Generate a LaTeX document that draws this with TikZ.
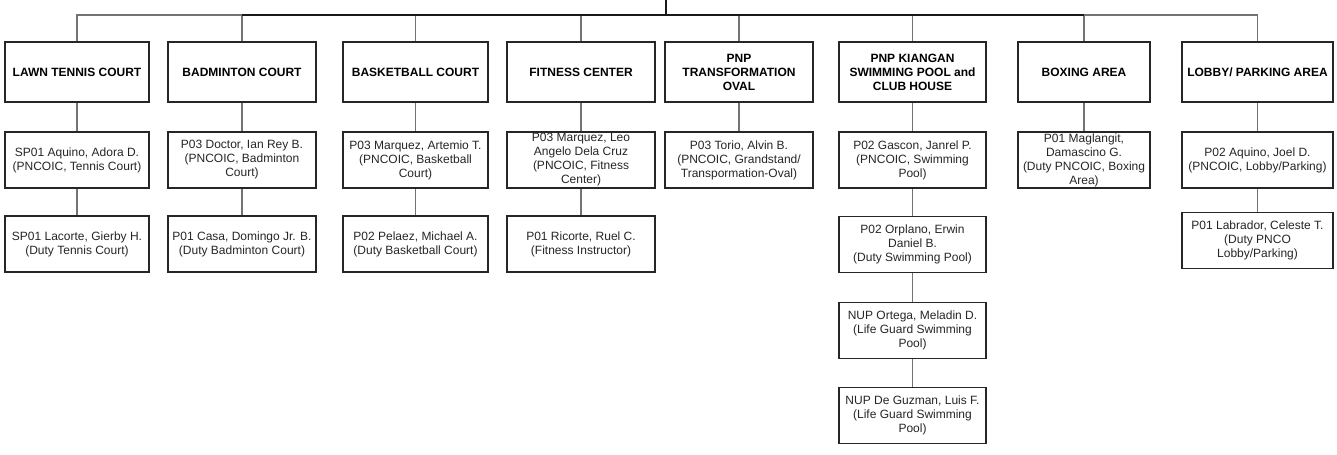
\documentclass[tikz,border=0pt]{standalone}
\usepackage{fontspec}
\setmainfont{Liberation Sans}
\usetikzlibrary{positioning}

\tikzset{
  hbox/.style={draw=black!85, line width=1.4pt, fill=white, align=center,
    minimum height=45pt, inner sep=1pt,
    font=\fontsize{9}{10.5}\selectfont\bfseries},
  pbox/.style={draw=black!85, line width=1.4pt, fill=white, align=center,
    minimum height=42pt, inner sep=1pt, text=black!85,
    font=\fontsize{9}{10.5}\selectfont},
  link/.style={draw=black!55, line width=1.4pt},
  rootlink/.style={draw=black!90, line width=1.5pt}
}

\begin{document}
\begin{tikzpicture}[x=0.75pt, y=-0.75pt]

  \useasboundingbox (0,0) rectangle (1337,454);

  % Root stub and bus
  \coordinate (root) at (666,0);
  \coordinate (bus) at (666,15);

  % Area headers
  \node[hbox, minimum width=108pt]    (lawn)  at (77,72)     {LAWN TENNIS COURT};
  \node[hbox, minimum width=111pt]    (badm)  at (242,72)    {BADMINTON COURT};
  \node[hbox, minimum width=108.75pt] (bask)  at (415.5,72)  {BASKETBALL COURT};
  \node[hbox, minimum width=111pt]    (fit)   at (581,72)    {FITNESS CENTER};
  \node[hbox, minimum width=111pt]    (oval)  at (739,72)    {PNP\\TRANSFORMATION\\OVAL};
  \node[hbox, minimum width=110.25pt] (pool)  at (912.5,72)  {PNP KIANGAN\\SWIMMING POOL and\\CLUB HOUSE};
  \node[hbox, minimum width=99pt]     (boxa)  at (1084,72)   {BOXING AREA};
  \node[hbox, minimum width=113.25pt] (lobby) at (1257.5,72) {LOBBY/ PARKING AREA};

  % Lawn tennis
  \node[pbox, minimum width=108pt] (lawnA) at (77,160) {SP01 Aquino, Adora D.\\(PNCOIC, Tennis Court)};
  \node[pbox, minimum width=108pt] (lawnB) at (77,244) {SP01 Lacorte, Gierby H.\\(Duty Tennis Court)};

  % Badminton
  \node[pbox, minimum width=111pt] (badmA) at (242,160) {P03 Doctor, Ian Rey B.\\(PNCOIC, Badminton\\Court)};
  \node[pbox, minimum width=111pt] (badmB) at (242,244) {P01 Casa, Domingo Jr. B.\\(Duty Badminton Court)};

  % Basketball
  \node[pbox, minimum width=108.75pt] (baskA) at (415.5,160) {P03 Marquez, Artemio T.\\(PNCOIC, Basketball\\Court)};
  \node[pbox, minimum width=108.75pt] (baskB) at (415.5,244) {P02 Pelaez, Michael A.\\(Duty Basketball Court)};

  % Fitness
  \node[pbox, minimum width=111pt] (fitA) at (581,160) {P03 Marquez, Leo\\Angelo Dela Cruz\\(PNCOIC, Fitness\\Center)};
  \node[pbox, minimum width=111pt] (fitB) at (581,244) {P01 Ricorte, Ruel C.\\(Fitness Instructor)};

  % Oval
  \node[pbox, minimum width=111pt] (ovalA) at (739,160) {P03 Torio, Alvin B.\\(PNCOIC, Grandstand/\\Transpormation-Oval)};

  % Swimming pool
  \node[pbox, minimum width=110.25pt] (poolA) at (912.5,160)   {P02 Gascon, Janrel P.\\(PNCOIC, Swimming\\Pool)};
  \node[pbox, minimum width=110.25pt] (poolB) at (912.5,244.5) {P02 Orplano, Erwin\\Daniel B.\\(Duty Swimming Pool)};
  \node[pbox, minimum width=110.25pt] (poolC) at (912.5,330.5) {NUP Ortega, Meladin D.\\(Life Guard Swimming\\Pool)};
  \node[pbox, minimum width=110.25pt] (poolD) at (912.5,415.5) {NUP De Guzman, Luis F.\\(Life Guard Swimming\\Pool)};

  % Boxing
  \node[pbox, minimum width=99pt] (boxaA) at (1084,160) {P01 Maglangit,\\Damascino G.\\(Duty PNCOIC, Boxing\\Area)};

  % Lobby
  \node[pbox, minimum width=113.25pt] (lobbyA) at (1257.5,160)   {P02 Aquino, Joel D.\\(PNCOIC, Lobby/Parking)};
  \node[pbox, minimum width=113.25pt] (lobbyB) at (1257.5,240.5) {P01 Labrador, Celeste T.\\(Duty PNCO\\Lobby/Parking)};

  % Bus to headers
  \foreach \h in {lawn,badm,bask,fit,oval,pool,boxa,lobby}
    \draw[link] (root) -- (bus) -| (\h.north);
  \draw[rootlink] (root) -- (bus);
  \draw[rootlink] (badm.north |- bus) -- (boxa.north |- bus);

  % Columns
  \foreach \a/\b in {lawn/lawnA, lawnA/lawnB, badm/badmA, badmA/badmB,
      bask/baskA, baskA/baskB, fit/fitA, fitA/fitB, oval/ovalA,
      pool/poolA, poolA/poolB, poolB/poolC, poolC/poolD,
      boxa/boxaA, lobby/lobbyA, lobbyA/lobbyB}
    \draw[link] (\a) -- (\b);

\end{tikzpicture}
\end{document}
